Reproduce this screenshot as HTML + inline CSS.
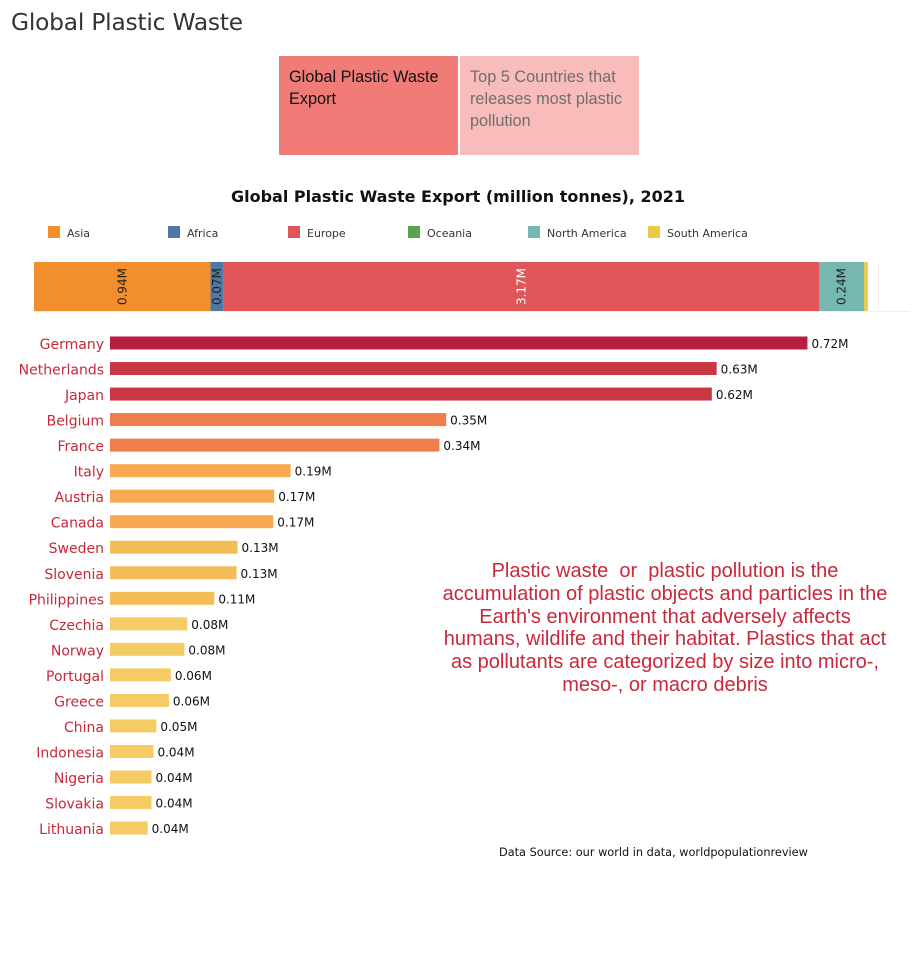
<!DOCTYPE html>
<html><head><meta charset="utf-8">
<style>
body{margin:0;background:#fff;width:916px;height:964px;overflow:hidden;font-family:"DejaVu Sans","Liberation Sans",sans-serif;}
.abs{position:absolute}
</style></head>
<body>
<div class="abs" style="left:11px;top:9px;font-size:23.3px;color:#333;font-family:'DejaVu Sans',sans-serif;letter-spacing:-0.2px">Global Plastic Waste</div>
<div class="abs" style="left:279px;top:56px;width:179px;height:99px;background:#f07b77;box-sizing:border-box;padding:10px 6px 10px 10px;font-size:16.3px;line-height:22px;color:#111;font-family:'Liberation Sans',sans-serif">Global Plastic Waste Export</div>
<div class="abs" style="left:460px;top:56px;width:179px;height:99px;background:#f8bcbb;box-sizing:border-box;padding:10px 6px 10px 10px;font-size:16.3px;line-height:22px;color:#6f6f6f;font-family:'Liberation Sans',sans-serif">Top 5 Countries that releases most plastic pollution</div>
<div class="abs" style="left:0;width:916px;text-align:center;top:187px;font-size:16px;font-weight:bold;color:#111">Global Plastic Waste Export (million tonnes), 2021</div>
<svg id="chart" class="abs" style="left:0;top:0" width="916" height="964"></svg>
<div class="abs" style="left:415px;width:500px;top:560px;text-align:center;white-space:nowrap;font-family:'Liberation Sans',Arial,sans-serif;font-size:20px;line-height:22.8px;color:#c8283a">Plastic waste&nbsp; or&nbsp; plastic pollution is the<br>accumulation of plastic objects and particles in the<br>Earth's environment that adversely affects<br>humans, wildlife and their habitat. Plastics that act<br>as pollutants are categorized by size into micro-,<br>meso-, or macro debris</div>
<div class="abs" style="left:499px;top:846px;font-size:11.3px;color:#111">Data Source: our world in data, worldpopulationreview</div>
<script>
const regions=["Asia","Africa","Europe","Oceania","North America","South America"];
const regionValues=[0.94,0.07,3.17,0.0,0.24,0.02];
const regionColors=["#f28e2b","#4e79a7","#e15759","#59a14f","#76b7b2","#edc948"];
const countries=["Germany","Netherlands","Japan","Belgium","France","Italy","Austria","Canada","Sweden","Slovenia","Philippines","Czechia","Norway","Portugal","Greece","China","Indonesia","Nigeria","Slovakia","Lithuania"];
const countryValues=[0.722,0.628,0.623,0.348,0.341,0.187,0.170,0.169,0.132,0.131,0.108,0.080,0.077,0.063,0.061,0.048,0.045,0.043,0.043,0.039];
const ns="http://www.w3.org/2000/svg";
const svg=document.getElementById('chart');
function mk(t,a){const e=document.createElementNS(ns,t);for(const k in a)e.setAttribute(k,a[k]);svg.appendChild(e);return e;}
const legX=[48,168,288,408,528,648];
regions.forEach((r,i)=>{
  const sw=mk('rect',{x:legX[i],y:226,width:12,height:12,fill:regionColors[i]});
  
  
  const t=mk('text',{x:legX[i]+19,y:237,'font-size':11,fill:'#333'});t.textContent=r;
  
  
});
const sx=v=>v*187.8;
let acc=0;const sx0=34,sy=262,sh=49;
mk('line',{x1:34,y1:311.5,x2:910,y2:311.5,stroke:'#eee'});
mk('line',{x1:878.5,y1:262,x2:878.5,y2:311,stroke:'#eee'});
regions.forEach((r,i)=>{
  const v=regionValues[i];if(v<=0)return;
  const x=sx0+sx(acc),w=sx(v);
  const b=mk('rect',{x:x,y:sy,width:w,height:sh,fill:regionColors[i]});
  
  
  if(v>=0.05){
    const cx=x+w/2+4;
    const t=mk('text',{x:cx,y:sy+sh/2,'font-size':12,fill:i==2?'#fff':'#222','text-anchor':'middle',transform:`rotate(-90 ${cx} ${sy+sh/2})`});
    t.textContent=v.toFixed(2)+'M';
    
    
  }
  acc+=v;
});
const x0=110,scale=966,y0=343,step=25.53,bh=13;
function col(v){if(v>0.6)return v>0.7?'#b81e3d':'#c93743';if(v>0.3)return '#f07e4d';if(v>0.15)return '#f8aa52';if(v>0.1)return '#f5bd58';return '#f4cb65';}
countries.forEach((c,i)=>{
  const v=countryValues[i],y=y0+i*step,w=v*scale;
  const b=mk('rect',{x:x0,y:y-bh/2,width:w,height:bh,fill:col(v)});
  
  
  const l=mk('text',{x:104,y:y+6,'font-size':14,fill:'#c8283a','text-anchor':'end'});l.textContent=c;
  
  
  const t=mk('text',{x:x0+w+4,y:y+5,'font-size':12,fill:'#111'});t.textContent=v.toFixed(2)+'M';
  
  
});
</script>
</body></html>
